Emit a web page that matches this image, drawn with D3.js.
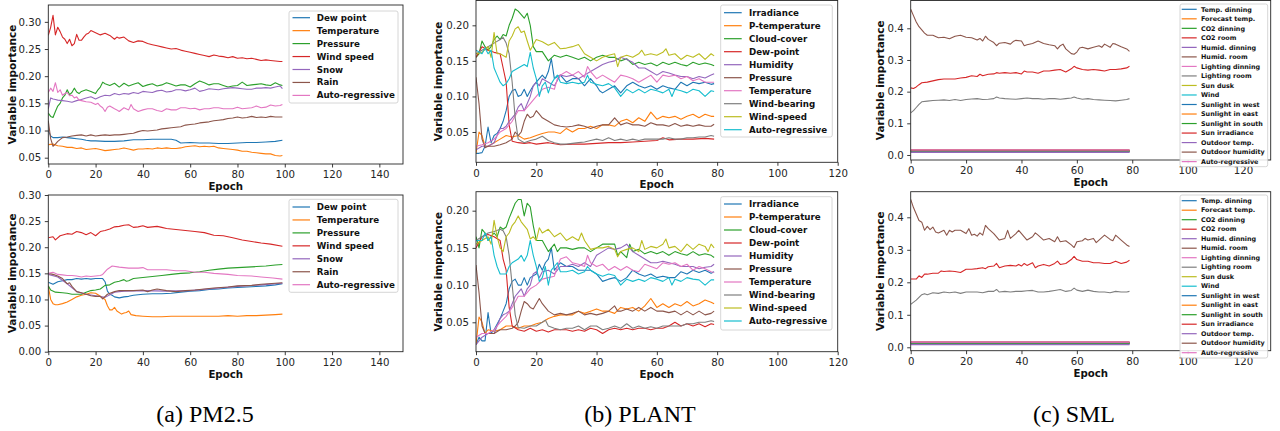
<!DOCTYPE html>
<html><head><meta charset="utf-8">
<script src="https://cdn.jsdelivr.net/npm/d3@7"></script>
<style>body{margin:0;background:#fff}svg{display:block}</style>
</head><body><svg id="c" width="1280" height="431"></svg>
<script>
const tab10 = ["#1f77b4","#ff7f0e","#2ca02c","#d62728","#9467bd","#8c564b","#e377c2","#7f7f7f","#bcbd22","#17becf"];

// ---------- (a) PM2.5 ----------
const pmNames = ["Dew point","Temperature","Pressure","Wind speed","Snow","Rain","Auto-regressive"];
const pmXTicks = [0,20,40,60,80,100,120,140];
const pmTopYTicks = [0.05,0.10,0.15,0.20,0.25,0.30];
const pmBotYTicks = [0.00,0.05,0.10,0.15,0.20,0.25,0.30];

const pmTopDew = [[0,0.100],[1,0.090],[2,0.087],[4,0.087],[6,0.088],[8,0.087],[10,0.086],[12,0.085],[14,0.084],[16,0.082],[18,0.081],[20,0.081],[24,0.080],[28,0.080],[32,0.081],[36,0.083],[40,0.083],[44,0.084],[48,0.084],[52,0.084],[54,0.082],[56,0.077],[60,0.078],[64,0.077],[68,0.077],[72,0.076],[76,0.076],[80,0.077],[84,0.078],[88,0.078],[92,0.079],[96,0.080],[99,0.082]];
const pmTopTemp = [[0,0.074],[2,0.075],[4,0.072],[6,0.071],[8,0.069],[10,0.069],[12,0.067],[14,0.068],[16,0.065],[18,0.066],[20,0.067],[22,0.065],[24,0.063],[26,0.064],[28,0.065],[30,0.066],[32,0.068],[34,0.066],[36,0.064],[38,0.066],[40,0.066],[42,0.067],[44,0.066],[46,0.068],[48,0.067],[50,0.068],[52,0.067],[54,0.067],[56,0.068],[58,0.070],[60,0.071],[62,0.072],[64,0.070],[66,0.071],[68,0.070],[70,0.071],[72,0.068],[74,0.067],[76,0.066],[78,0.065],[80,0.064],[82,0.062],[84,0.062],[86,0.060],[88,0.059],[90,0.058],[92,0.057],[94,0.057],[96,0.054],[98,0.053],[99,0.054]];
const pmTopPres = [[0,0.132],[1,0.126],[2,0.124],[3,0.135],[4,0.145],[5,0.150],[6,0.160],[7,0.165],[8,0.175],[9,0.166],[10,0.170],[11,0.178],[12,0.171],[13,0.168],[14,0.172],[16,0.175],[18,0.172],[20,0.168],[21,0.175],[22,0.180],[23,0.189],[24,0.186],[26,0.183],[28,0.187],[30,0.180],[32,0.187],[34,0.182],[36,0.185],[38,0.188],[40,0.181],[42,0.184],[44,0.186],[46,0.182],[48,0.184],[50,0.188],[52,0.185],[54,0.182],[56,0.184],[58,0.184],[60,0.180],[62,0.186],[64,0.191],[66,0.188],[68,0.184],[70,0.186],[72,0.186],[74,0.183],[76,0.180],[78,0.182],[80,0.183],[82,0.189],[84,0.183],[86,0.184],[88,0.185],[90,0.186],[92,0.184],[94,0.183],[96,0.188],[98,0.184],[99,0.183]];
const pmTopWind = [[0,0.275],[1,0.290],[2,0.312],[3,0.276],[4,0.290],[5,0.282],[6,0.272],[7,0.268],[8,0.260],[9,0.268],[10,0.256],[11,0.260],[12,0.277],[13,0.266],[14,0.266],[15,0.272],[16,0.277],[17,0.279],[18,0.284],[20,0.280],[22,0.276],[24,0.279],[26,0.275],[28,0.268],[29,0.272],[30,0.270],[32,0.272],[34,0.265],[36,0.262],[38,0.265],[40,0.264],[42,0.260],[44,0.258],[46,0.256],[48,0.254],[50,0.252],[52,0.250],[54,0.251],[56,0.248],[58,0.246],[60,0.244],[62,0.242],[64,0.240],[66,0.238],[68,0.236],[70,0.239],[72,0.237],[74,0.236],[76,0.234],[78,0.236],[80,0.233],[82,0.234],[84,0.232],[86,0.233],[88,0.231],[90,0.229],[92,0.230],[94,0.229],[96,0.228],[98,0.227],[99,0.227]];
const pmTopSnow = [[0,0.140],[1,0.160],[2,0.158],[3,0.157],[4,0.156],[6,0.155],[8,0.154],[10,0.152],[12,0.155],[14,0.157],[16,0.160],[18,0.162],[20,0.158],[22,0.162],[24,0.165],[26,0.164],[28,0.168],[30,0.166],[32,0.168],[34,0.167],[36,0.170],[38,0.168],[40,0.172],[42,0.171],[44,0.170],[46,0.173],[48,0.174],[50,0.171],[52,0.172],[54,0.175],[56,0.175],[58,0.173],[60,0.175],[62,0.178],[64,0.172],[66,0.174],[68,0.177],[70,0.176],[72,0.175],[74,0.177],[76,0.178],[78,0.179],[80,0.178],[82,0.177],[84,0.176],[86,0.176],[88,0.178],[90,0.178],[92,0.179],[94,0.178],[96,0.180],[98,0.182],[99,0.177]];
const pmTopRain = [[0,0.118],[1,0.085],[2,0.071],[3,0.075],[4,0.080],[6,0.087],[8,0.088],[10,0.090],[12,0.091],[14,0.092],[16,0.090],[18,0.092],[20,0.090],[22,0.091],[24,0.092],[26,0.091],[28,0.092],[30,0.092],[32,0.093],[34,0.094],[36,0.095],[38,0.098],[40,0.100],[42,0.099],[44,0.100],[46,0.101],[48,0.103],[50,0.104],[52,0.105],[54,0.106],[56,0.107],[58,0.110],[60,0.111],[62,0.112],[64,0.114],[66,0.115],[68,0.116],[70,0.118],[72,0.119],[74,0.120],[76,0.122],[78,0.123],[80,0.125],[82,0.123],[84,0.124],[86,0.126],[88,0.124],[90,0.125],[92,0.124],[94,0.126],[96,0.125],[99,0.125]];
const pmTopAuto = [[0,0.170],[1,0.178],[2,0.172],[3,0.188],[4,0.170],[5,0.175],[6,0.165],[7,0.168],[8,0.170],[9,0.164],[10,0.165],[11,0.160],[12,0.162],[13,0.156],[14,0.155],[16,0.153],[18,0.152],[20,0.148],[21,0.150],[22,0.145],[23,0.142],[24,0.135],[25,0.143],[26,0.145],[28,0.140],[29,0.138],[30,0.135],[32,0.142],[34,0.138],[35,0.148],[36,0.140],[38,0.135],[40,0.138],[42,0.140],[44,0.140],[46,0.137],[48,0.135],[50,0.140],[52,0.138],[54,0.138],[56,0.142],[58,0.142],[60,0.140],[62,0.141],[64,0.138],[66,0.140],[68,0.140],[70,0.142],[72,0.142],[74,0.140],[76,0.140],[78,0.140],[80,0.143],[82,0.140],[84,0.141],[86,0.142],[88,0.145],[90,0.142],[92,0.143],[94,0.147],[96,0.145],[98,0.146],[99,0.148]];

const pmBotDew = [[0,0.133],[2,0.129],[4,0.134],[6,0.136],[8,0.138],[10,0.138],[12,0.140],[14,0.139],[16,0.140],[18,0.139],[20,0.140],[22,0.140],[23,0.140],[24,0.134],[25,0.116],[26,0.110],[27,0.108],[28,0.105],[30,0.103],[32,0.105],[34,0.106],[36,0.108],[38,0.109],[40,0.110],[44,0.111],[48,0.111],[52,0.112],[56,0.114],[60,0.116],[64,0.117],[68,0.119],[72,0.120],[76,0.122],[80,0.123],[84,0.124],[88,0.125],[92,0.126],[96,0.128],[99,0.130]];
const pmBotTemp = [[0,0.125],[1,0.100],[2,0.092],[3,0.090],[4,0.090],[6,0.092],[8,0.095],[10,0.100],[12,0.105],[14,0.108],[16,0.110],[18,0.113],[20,0.112],[22,0.106],[24,0.100],[25,0.088],[26,0.080],[27,0.080],[28,0.085],[29,0.078],[31,0.072],[32,0.074],[33,0.075],[34,0.078],[35,0.071],[37,0.069],[40,0.068],[44,0.067],[48,0.067],[52,0.068],[56,0.068],[60,0.068],[64,0.068],[68,0.068],[72,0.068],[76,0.069],[80,0.068],[84,0.069],[88,0.069],[92,0.070],[96,0.071],[99,0.072]];
const pmBotPres = [[0,0.126],[1,0.118],[3,0.114],[6,0.113],[8,0.112],[10,0.110],[12,0.110],[14,0.110],[16,0.114],[18,0.117],[20,0.118],[22,0.120],[24,0.127],[26,0.128],[28,0.133],[30,0.135],[32,0.138],[33,0.135],[34,0.136],[36,0.140],[38,0.141],[40,0.142],[44,0.144],[48,0.146],[52,0.148],[56,0.150],[60,0.151],[64,0.153],[68,0.156],[72,0.158],[76,0.160],[80,0.161],[84,0.162],[88,0.163],[92,0.164],[96,0.166],[99,0.167]];
const pmBotWind = [[0,0.218],[2,0.220],[3,0.214],[5,0.222],[8,0.226],[10,0.225],[12,0.230],[14,0.228],[16,0.224],[18,0.228],[20,0.222],[22,0.230],[24,0.232],[26,0.235],[28,0.239],[30,0.240],[32,0.242],[34,0.243],[36,0.238],[38,0.239],[40,0.241],[42,0.238],[44,0.239],[46,0.240],[48,0.238],[50,0.236],[54,0.234],[58,0.232],[62,0.230],[66,0.228],[70,0.223],[74,0.222],[78,0.218],[82,0.214],[86,0.211],[90,0.208],[94,0.206],[99,0.202]];
const pmBotSnow = [[0,0.148],[4,0.143],[8,0.130],[12,0.115],[16,0.110],[20,0.107],[24,0.104],[28,0.114],[32,0.116],[40,0.117],[50,0.116],[60,0.117],[70,0.121],[80,0.125],[90,0.128],[99,0.131]];
const pmBotRain = [[0,0.150],[2,0.148],[4,0.145],[6,0.140],[8,0.130],[9,0.132],[10,0.125],[12,0.115],[14,0.113],[16,0.110],[18,0.107],[20,0.106],[22,0.106],[23,0.101],[25,0.110],[28,0.115],[30,0.117],[32,0.117],[36,0.117],[40,0.118],[42,0.115],[44,0.118],[46,0.120],[50,0.117],[54,0.115],[58,0.117],[62,0.118],[66,0.120],[70,0.122],[76,0.124],[80,0.126],[86,0.127],[90,0.129],[96,0.131],[99,0.132]];
const pmBotAuto = [[0,0.150],[2,0.152],[4,0.148],[6,0.147],[8,0.146],[10,0.146],[12,0.145],[14,0.143],[16,0.145],[18,0.144],[20,0.145],[22,0.146],[23,0.148],[25,0.158],[27,0.164],[30,0.162],[34,0.160],[38,0.160],[40,0.161],[42,0.157],[46,0.157],[50,0.157],[54,0.155],[58,0.155],[62,0.152],[66,0.152],[70,0.150],[76,0.148],[80,0.146],[86,0.145],[90,0.143],[95,0.141],[99,0.139]];

// ---------- (b) PLANT ----------
const plNames = ["Irradiance","P-temperature","Cloud-cover","Dew-point","Humidity","Pressure","Temperature","Wind-bearing","Wind-speed","Auto-regressive"];
const plXTicks = [0,20,40,60,80,100,120];
const plYTicks = [0.05,0.10,0.15,0.20];

const plTopIrr = [[0,0.020],[1,0.020],[2,0.021],[3,0.030],[4,0.057],[5,0.035],[6,0.045],[7,0.048],[8,0.055],[9,0.065],[10,0.080],[11,0.100],[12,0.108],[13,0.110],[14,0.100],[15,0.102],[16,0.110],[17,0.100],[18,0.108],[19,0.115],[20,0.120],[21,0.125],[22,0.130],[23,0.125],[24,0.135],[25,0.153],[26,0.125],[27,0.128],[28,0.130],[30,0.120],[32,0.125],[34,0.125],[36,0.115],[38,0.125],[40,0.115],[41,0.108],[42,0.105],[44,0.110],[46,0.115],[48,0.105],[50,0.115],[52,0.120],[54,0.115],[56,0.112],[58,0.115],[60,0.110],[62,0.115],[64,0.112],[66,0.110],[68,0.120],[70,0.115],[72,0.120],[74,0.118],[76,0.120],[78,0.117],[79,0.118]];
const plTopPT = [[0,0.020],[1,0.050],[2,0.045],[3,0.030],[4,0.030],[6,0.035],[8,0.040],[10,0.045],[12,0.043],[14,0.045],[16,0.040],[18,0.042],[20,0.045],[22,0.048],[24,0.050],[26,0.050],[28,0.048],[30,0.055],[32,0.050],[34,0.055],[36,0.055],[38,0.058],[40,0.055],[42,0.060],[44,0.060],[46,0.058],[48,0.065],[50,0.068],[52,0.063],[54,0.070],[56,0.065],[58,0.078],[60,0.068],[62,0.072],[64,0.070],[66,0.072],[68,0.068],[70,0.072],[72,0.075],[74,0.070],[76,0.075],[78,0.072],[79,0.072]];
const plTopCloud = [[0,0.155],[1,0.160],[2,0.178],[3,0.170],[4,0.165],[5,0.170],[6,0.180],[7,0.185],[8,0.180],[9,0.187],[10,0.185],[11,0.200],[12,0.210],[13,0.223],[14,0.220],[15,0.215],[16,0.210],[17,0.217],[18,0.200],[19,0.170],[20,0.163],[22,0.163],[24,0.150],[26,0.158],[28,0.155],[30,0.158],[32,0.155],[34,0.152],[36,0.155],[38,0.150],[40,0.155],[42,0.158],[44,0.155],[46,0.155],[48,0.150],[50,0.153],[52,0.145],[54,0.148],[56,0.145],[58,0.147],[60,0.143],[62,0.148],[64,0.145],[66,0.148],[68,0.145],[70,0.143],[72,0.148],[74,0.145],[76,0.147],[78,0.145],[79,0.143]];
const plTopDew = [[0,0.155],[2,0.170],[4,0.165],[6,0.162],[8,0.160],[9,0.140],[10,0.120],[11,0.060],[12,0.037],[14,0.035],[16,0.034],[18,0.035],[20,0.033],[24,0.035],[28,0.032],[32,0.033],[36,0.033],[40,0.034],[44,0.035],[48,0.035],[52,0.036],[56,0.037],[60,0.038],[62,0.042],[64,0.039],[68,0.040],[72,0.040],[76,0.041],[79,0.040]];
const plTopHum = [[0,0.025],[2,0.030],[4,0.030],[6,0.035],[7,0.045],[8,0.055],[9,0.055],[10,0.058],[11,0.065],[12,0.070],[13,0.075],[14,0.085],[15,0.090],[16,0.080],[17,0.090],[18,0.100],[19,0.115],[20,0.120],[21,0.115],[22,0.125],[24,0.120],[26,0.115],[28,0.130],[30,0.128],[32,0.130],[34,0.125],[36,0.130],[38,0.135],[40,0.140],[42,0.145],[44,0.148],[46,0.150],[48,0.155],[50,0.152],[52,0.148],[54,0.140],[56,0.140],[58,0.135],[60,0.130],[62,0.135],[64,0.133],[66,0.130],[68,0.128],[70,0.128],[72,0.125],[74,0.128],[76,0.126],[78,0.130],[79,0.132]];
const plTopPres = [[0,0.127],[1,0.090],[2,0.040],[3,0.028],[4,0.030],[6,0.030],[8,0.032],[10,0.035],[12,0.040],[13,0.050],[14,0.045],[15,0.050],[16,0.065],[17,0.075],[18,0.070],[19,0.072],[20,0.080],[21,0.075],[22,0.070],[24,0.065],[26,0.060],[28,0.058],[30,0.057],[32,0.058],[34,0.060],[36,0.058],[38,0.055],[40,0.058],[42,0.060],[44,0.060],[46,0.070],[48,0.060],[50,0.063],[52,0.060],[54,0.060],[56,0.058],[58,0.063],[60,0.060],[62,0.060],[64,0.058],[66,0.062],[68,0.058],[70,0.060],[72,0.058],[74,0.060],[76,0.058],[78,0.058],[79,0.061]];
const plTopTemp = [[0,0.030],[2,0.032],[4,0.035],[6,0.040],[8,0.050],[10,0.055],[12,0.065],[14,0.080],[16,0.080],[18,0.090],[20,0.100],[22,0.110],[24,0.113],[26,0.110],[27,0.125],[28,0.130],[30,0.135],[32,0.130],[34,0.135],[36,0.127],[37,0.142],[38,0.135],[40,0.125],[42,0.130],[44,0.125],[46,0.120],[48,0.130],[50,0.128],[52,0.125],[54,0.120],[56,0.125],[58,0.130],[60,0.120],[62,0.130],[64,0.128],[66,0.130],[68,0.125],[70,0.128],[72,0.122],[74,0.125],[76,0.120],[78,0.120],[79,0.120]];
const plTopWB = [[0,0.160],[2,0.165],[4,0.170],[6,0.175],[8,0.180],[9,0.183],[10,0.175],[11,0.160],[12,0.120],[13,0.070],[14,0.040],[16,0.035],[18,0.038],[20,0.040],[22,0.044],[24,0.038],[26,0.035],[28,0.033],[30,0.033],[32,0.034],[34,0.035],[36,0.036],[38,0.038],[40,0.040],[42,0.038],[44,0.042],[46,0.038],[48,0.040],[50,0.038],[52,0.040],[54,0.038],[56,0.040],[58,0.040],[60,0.040],[62,0.040],[64,0.042],[66,0.040],[68,0.040],[70,0.042],[72,0.042],[74,0.043],[76,0.043],[78,0.045],[79,0.044]];
const plTopWS = [[0,0.160],[2,0.162],[4,0.170],[5,0.155],[6,0.190],[7,0.160],[8,0.160],[10,0.155],[11,0.178],[12,0.185],[13,0.195],[14,0.198],[15,0.190],[16,0.192],[17,0.178],[18,0.165],[20,0.180],[22,0.177],[24,0.172],[26,0.176],[28,0.167],[30,0.168],[32,0.170],[34,0.173],[36,0.160],[38,0.155],[40,0.150],[42,0.155],[44,0.158],[46,0.160],[47,0.142],[48,0.155],[50,0.158],[52,0.155],[54,0.160],[55,0.165],[56,0.158],[58,0.160],[60,0.158],[62,0.162],[63,0.167],[64,0.158],[66,0.160],[68,0.152],[70,0.158],[72,0.155],[74,0.160],[76,0.152],[78,0.160],[79,0.157]];
const plTopAuto = [[0,0.165],[2,0.160],[3,0.168],[4,0.160],[5,0.165],[6,0.140],[7,0.130],[8,0.120],[9,0.115],[10,0.118],[11,0.125],[12,0.135],[14,0.140],[16,0.145],[17,0.142],[18,0.162],[19,0.140],[20,0.125],[21,0.100],[22,0.115],[23,0.120],[24,0.105],[25,0.118],[26,0.125],[27,0.130],[28,0.120],[30,0.118],[32,0.120],[34,0.118],[36,0.120],[37,0.130],[38,0.120],[40,0.117],[42,0.115],[44,0.118],[46,0.112],[48,0.100],[50,0.110],[52,0.105],[54,0.110],[56,0.105],[58,0.110],[60,0.108],[62,0.105],[64,0.110],[65,0.100],[66,0.110],[68,0.108],[70,0.105],[72,0.110],[74,0.108],[76,0.100],[78,0.108],[79,0.107]];

const plBotIrr = [[0,0.020],[1,0.030],[2,0.025],[3,0.025],[4,0.063],[5,0.035],[6,0.040],[8,0.055],[9,0.065],[10,0.075],[11,0.095],[12,0.105],[13,0.108],[14,0.100],[15,0.100],[16,0.110],[17,0.100],[18,0.110],[20,0.115],[21,0.128],[22,0.120],[23,0.130],[24,0.135],[25,0.150],[26,0.120],[28,0.130],[30,0.125],[32,0.125],[34,0.120],[36,0.120],[38,0.120],[40,0.115],[42,0.105],[44,0.108],[46,0.110],[48,0.105],[50,0.110],[52,0.120],[54,0.115],[56,0.112],[58,0.115],[60,0.110],[62,0.112],[64,0.110],[66,0.110],[68,0.118],[70,0.115],[72,0.120],[74,0.117],[76,0.120],[78,0.116],[79,0.118]];
const plBotPT = [[0,0.020],[1,0.057],[2,0.050],[3,0.035],[4,0.040],[6,0.038],[8,0.040],[10,0.045],[12,0.045],[14,0.042],[16,0.045],[18,0.045],[20,0.048],[22,0.050],[24,0.055],[26,0.058],[28,0.060],[30,0.060],[32,0.060],[34,0.065],[36,0.062],[38,0.065],[40,0.068],[42,0.065],[44,0.065],[46,0.062],[48,0.070],[50,0.068],[52,0.070],[54,0.065],[56,0.072],[58,0.082],[60,0.070],[62,0.075],[64,0.070],[66,0.075],[68,0.072],[70,0.078],[72,0.072],[74,0.075],[76,0.080],[78,0.077],[79,0.075]];
const plBotCloud = [[0,0.165],[1,0.150],[2,0.175],[3,0.170],[4,0.160],[5,0.165],[6,0.170],[7,0.165],[8,0.178],[9,0.175],[10,0.178],[11,0.190],[12,0.200],[13,0.210],[14,0.215],[15,0.215],[16,0.193],[17,0.210],[18,0.205],[19,0.180],[20,0.160],[22,0.160],[24,0.145],[26,0.155],[27,0.145],[28,0.150],[30,0.150],[32,0.148],[34,0.150],[36,0.150],[38,0.145],[40,0.150],[42,0.155],[44,0.155],[46,0.155],[47,0.140],[48,0.145],[50,0.137],[51,0.155],[52,0.145],[54,0.148],[56,0.142],[58,0.145],[60,0.142],[62,0.145],[64,0.140],[66,0.145],[68,0.142],[70,0.140],[72,0.145],[74,0.140],[76,0.142],[78,0.140],[79,0.137]];
const plBotDew = [[0,0.150],[2,0.165],[4,0.168],[6,0.165],[8,0.160],[9,0.135],[10,0.120],[11,0.070],[12,0.045],[14,0.040],[16,0.038],[18,0.042],[20,0.038],[22,0.040],[24,0.037],[26,0.040],[28,0.040],[30,0.040],[32,0.038],[34,0.040],[36,0.038],[38,0.042],[40,0.040],[42,0.035],[44,0.040],[46,0.042],[48,0.040],[50,0.042],[52,0.040],[54,0.042],[56,0.042],[58,0.040],[60,0.042],[62,0.042],[64,0.045],[66,0.050],[68,0.045],[70,0.048],[72,0.045],[74,0.048],[76,0.044],[78,0.048],[79,0.047]];
const plBotHum = [[0,0.020],[2,0.030],[4,0.035],[6,0.035],[7,0.045],[8,0.055],[9,0.060],[10,0.062],[11,0.065],[12,0.075],[13,0.085],[14,0.090],[15,0.095],[16,0.085],[17,0.095],[18,0.100],[19,0.115],[20,0.118],[21,0.110],[22,0.118],[24,0.120],[26,0.115],[28,0.125],[30,0.125],[32,0.128],[34,0.125],[36,0.130],[38,0.125],[40,0.140],[42,0.145],[44,0.150],[46,0.148],[48,0.150],[50,0.155],[52,0.145],[54,0.140],[56,0.135],[58,0.130],[60,0.130],[62,0.132],[64,0.130],[66,0.128],[68,0.125],[70,0.125],[72,0.125],[74,0.122],[76,0.124],[78,0.125],[79,0.128]];
const plBotPres = [[0,0.127],[1,0.090],[2,0.045],[3,0.035],[4,0.035],[6,0.035],[8,0.040],[10,0.040],[12,0.042],[13,0.045],[14,0.050],[15,0.065],[16,0.078],[17,0.075],[18,0.070],[19,0.068],[20,0.075],[21,0.082],[22,0.075],[23,0.070],[24,0.065],[26,0.060],[28,0.062],[30,0.060],[32,0.062],[34,0.065],[36,0.060],[38,0.062],[40,0.060],[42,0.062],[44,0.065],[46,0.072],[47,0.065],[48,0.065],[50,0.068],[52,0.065],[54,0.070],[56,0.065],[58,0.070],[60,0.065],[62,0.065],[64,0.063],[66,0.065],[68,0.060],[70,0.065],[72,0.060],[74,0.065],[76,0.060],[78,0.062],[79,0.065]];
const plBotTemp = [[0,0.030],[2,0.035],[4,0.035],[6,0.040],[8,0.050],[10,0.058],[12,0.070],[14,0.085],[16,0.085],[18,0.095],[20,0.100],[22,0.108],[24,0.110],[26,0.112],[27,0.125],[28,0.135],[30,0.138],[32,0.130],[34,0.128],[36,0.125],[37,0.140],[38,0.130],[40,0.125],[42,0.128],[44,0.120],[46,0.125],[48,0.120],[50,0.125],[52,0.120],[54,0.118],[56,0.128],[58,0.125],[60,0.122],[62,0.130],[64,0.128],[66,0.130],[68,0.125],[70,0.128],[72,0.120],[74,0.125],[76,0.122],[78,0.118],[79,0.117]];
const plBotWB = [[0,0.160],[2,0.165],[4,0.170],[6,0.172],[8,0.175],[9,0.173],[10,0.165],[11,0.140],[12,0.100],[13,0.060],[14,0.043],[16,0.042],[18,0.045],[20,0.045],[22,0.050],[23,0.053],[24,0.045],[26,0.042],[28,0.040],[30,0.042],[32,0.042],[34,0.045],[36,0.040],[38,0.045],[40,0.045],[42,0.040],[44,0.042],[46,0.045],[48,0.042],[50,0.048],[52,0.042],[54,0.045],[56,0.042],[58,0.044],[60,0.042],[62,0.045],[64,0.045],[66,0.045],[68,0.045],[70,0.048],[72,0.048],[74,0.050],[76,0.050],[78,0.052],[79,0.051]];
const plBotWS = [[0,0.155],[2,0.160],[4,0.165],[5,0.155],[6,0.187],[7,0.165],[8,0.150],[9,0.145],[10,0.165],[11,0.170],[12,0.180],[13,0.185],[14,0.193],[15,0.185],[16,0.180],[17,0.175],[18,0.162],[19,0.165],[20,0.160],[21,0.177],[22,0.170],[24,0.175],[26,0.165],[28,0.170],[30,0.160],[32,0.165],[34,0.160],[35,0.170],[36,0.160],[38,0.148],[40,0.150],[42,0.150],[44,0.152],[46,0.148],[47,0.138],[48,0.145],[50,0.148],[52,0.150],[54,0.145],[55,0.160],[56,0.148],[58,0.152],[60,0.150],[62,0.155],[63,0.162],[64,0.150],[66,0.152],[68,0.145],[70,0.155],[72,0.148],[74,0.155],[76,0.152],[77,0.145],[78,0.155],[79,0.150]];
const plBotAuto = [[0,0.160],[2,0.160],[3,0.170],[4,0.160],[5,0.165],[6,0.140],[7,0.125],[8,0.115],[9,0.115],[10,0.115],[11,0.125],[12,0.130],[14,0.135],[15,0.140],[16,0.132],[17,0.140],[18,0.160],[19,0.140],[20,0.125],[21,0.105],[22,0.110],[23,0.125],[24,0.100],[25,0.120],[26,0.125],[27,0.130],[28,0.118],[30,0.118],[32,0.120],[34,0.115],[36,0.118],[37,0.125],[38,0.120],[40,0.115],[42,0.112],[44,0.115],[46,0.113],[48,0.100],[50,0.108],[52,0.105],[54,0.108],[56,0.105],[58,0.110],[60,0.108],[62,0.105],[64,0.110],[65,0.100],[66,0.108],[68,0.105],[70,0.110],[72,0.108],[74,0.107],[76,0.100],[78,0.107],[79,0.107]];

// ---------- (c) SML ----------
const smNames = ["Temp. dinning","Forecast temp.","CO2 dinning","CO2 room","Humid. dinning","Humid. room","Lighting dinning","Lighting room","Sun dusk","Wind","Sunlight in west","Sunlight in east","Sunlight in south","Sun irradiance","Outdoor temp.","Outdoor humidity","Auto-regressive"];
const smXTicks = [0,20,40,60,80,100,120];
const smYTicks = [0.0,0.1,0.2,0.3,0.4];
const smFlatLevels = [0.012,0.013,0.012,null,0.008,null,0.015,null,0.012,0.011,0.012,0.013,0.012,0.016,0.009,0.015,0.016];
const smFlatEpochs = [0,20,40,60,79];

const smTopHumRoom = [[0,0.460],[1,0.440],[2,0.420],[3,0.405],[4,0.395],[5,0.385],[6,0.378],[8,0.378],[10,0.370],[12,0.372],[14,0.367],[16,0.375],[18,0.378],[20,0.372],[22,0.370],[24,0.363],[25,0.368],[26,0.360],[27,0.375],[28,0.365],[30,0.355],[31,0.345],[32,0.353],[34,0.355],[36,0.350],[37,0.358],[38,0.362],[40,0.360],[41,0.345],[42,0.348],[44,0.352],[46,0.360],[48,0.352],[50,0.348],[52,0.345],[53,0.335],[54,0.345],[55,0.350],[56,0.335],[58,0.320],[59,0.318],[60,0.325],[61,0.338],[62,0.340],[64,0.335],[66,0.340],[68,0.345],[69,0.340],[70,0.350],[72,0.340],[73,0.352],[74,0.350],[76,0.342],[78,0.335],[79,0.327]];
const smTopCO2Room = [[0,0.212],[1,0.210],[2,0.215],[3,0.222],[4,0.228],[6,0.230],[8,0.234],[10,0.238],[12,0.240],[14,0.240],[16,0.240],[18,0.243],[20,0.245],[22,0.250],[24,0.248],[25,0.255],[26,0.250],[28,0.255],[30,0.256],[31,0.260],[32,0.258],[34,0.260],[36,0.258],[38,0.260],[40,0.256],[41,0.265],[42,0.262],[44,0.262],[46,0.258],[48,0.265],[50,0.265],[52,0.268],[54,0.270],[56,0.262],[58,0.272],[59,0.280],[60,0.275],[62,0.270],[64,0.268],[66,0.270],[68,0.268],[70,0.265],[72,0.270],[74,0.270],[76,0.272],[78,0.275],[79,0.280]];
const smTopLightRoom = [[0,0.133],[1,0.140],[2,0.150],[3,0.160],[4,0.168],[6,0.170],[8,0.172],[10,0.173],[12,0.174],[14,0.172],[16,0.175],[18,0.172],[20,0.175],[22,0.177],[24,0.178],[26,0.175],[28,0.176],[30,0.178],[31,0.183],[32,0.180],[34,0.178],[36,0.177],[38,0.176],[40,0.178],[42,0.180],[44,0.178],[46,0.178],[48,0.176],[50,0.178],[52,0.178],[54,0.176],[56,0.178],[58,0.180],[59,0.183],[60,0.180],[62,0.176],[64,0.178],[66,0.175],[68,0.174],[70,0.173],[72,0.172],[74,0.171],[76,0.173],[78,0.175],[79,0.178]];

const smBotHumRoom = [[0,0.455],[1,0.430],[2,0.410],[3,0.390],[4,0.385],[5,0.360],[6,0.372],[7,0.362],[8,0.370],[9,0.355],[10,0.352],[12,0.360],[13,0.345],[14,0.360],[15,0.355],[16,0.360],[18,0.360],[20,0.350],[21,0.365],[22,0.345],[23,0.348],[24,0.342],[25,0.352],[26,0.345],[27,0.375],[28,0.365],[30,0.350],[32,0.330],[34,0.335],[35,0.360],[36,0.335],[38,0.350],[39,0.360],[40,0.350],[42,0.330],[44,0.340],[45,0.352],[46,0.345],[48,0.330],[50,0.335],[52,0.325],[53,0.340],[54,0.325],[56,0.328],[58,0.315],[59,0.307],[60,0.325],[62,0.328],[63,0.335],[64,0.330],[66,0.335],[67,0.322],[68,0.330],[70,0.345],[72,0.332],[73,0.328],[74,0.345],[76,0.330],[78,0.315],[79,0.310]];
const smBotCO2Room = [[0,0.210],[2,0.210],[3,0.220],[4,0.215],[5,0.225],[6,0.225],[8,0.228],[10,0.228],[11,0.235],[12,0.233],[14,0.235],[16,0.233],[18,0.230],[20,0.240],[22,0.240],[24,0.242],[26,0.245],[27,0.242],[28,0.248],[30,0.250],[31,0.258],[32,0.245],[34,0.250],[36,0.252],[38,0.250],[39,0.255],[40,0.250],[41,0.258],[42,0.252],[44,0.260],[45,0.245],[46,0.250],[48,0.255],[50,0.250],[52,0.258],[53,0.265],[54,0.255],[56,0.258],[58,0.270],[59,0.280],[60,0.270],[62,0.265],[64,0.265],[66,0.260],[68,0.260],[70,0.258],[72,0.258],[74,0.265],[76,0.258],[78,0.262],[79,0.268]];
const smBotLightRoom = [[0,0.132],[2,0.145],[4,0.162],[5,0.165],[6,0.162],[8,0.168],[10,0.166],[12,0.170],[14,0.168],[16,0.170],[18,0.166],[20,0.170],[22,0.170],[24,0.170],[26,0.168],[28,0.172],[30,0.172],[31,0.178],[32,0.170],[34,0.172],[36,0.170],[38,0.172],[40,0.172],[42,0.174],[44,0.175],[46,0.170],[48,0.170],[50,0.172],[52,0.175],[54,0.178],[56,0.172],[58,0.175],[59,0.182],[60,0.176],[62,0.172],[64,0.176],[66,0.172],[68,0.170],[70,0.170],[72,0.168],[74,0.172],[76,0.170],[78,0.170],[79,0.172]];

function smSeries(hum, co2, light){
  return smNames.map((n,i)=>{
    if (i===3) return co2;
    if (i===5) return hum;
    if (i===7) return light;
    return smFlatEpochs.map(e=>[e, smFlatLevels[i]]);
  });
}

const svg = d3.select("#c");
const FONT = "DejaVu Sans";
let clipId = 0;

function drawPanel(cfg){
  const g = svg.append("g");
  const x = d3.scaleLinear().domain(cfg.xd).range([cfg.l, cfg.r]);
  const y = d3.scaleLinear().domain(cfg.yd).range([cfg.b, cfg.t]);
  const id = "clip" + (clipId++);
  g.append("clipPath").attr("id", id).append("rect")
    .attr("x", cfg.l).attr("y", cfg.t).attr("width", cfg.r - cfg.l).attr("height", cfg.b - cfg.t);
  const line = d3.line().x(d => x(d[0])).y(d => y(d[1]));
  const lg = g.append("g").attr("clip-path", `url(#${id})`);
  cfg.series.forEach((s, i) => {
    lg.append("path").datum(s).attr("d", line)
      .attr("fill", "none").attr("stroke", tab10[i % 10])
      .attr("stroke-width", 1.1).attr("stroke-linejoin", "round");
  });
  // axes
  const xa = g.append("g").attr("transform", `translate(0,${cfg.b})`)
    .call(d3.axisBottom(x).tickValues(cfg.xt).tickSize(3.5).tickPadding(3.5).tickFormat(d3.format("d")));
  const ya = g.append("g").attr("transform", `translate(${cfg.l},0)`)
    .call(d3.axisLeft(y).tickValues(cfg.yt).tickSize(3.5).tickPadding(3.5).tickFormat(d3.format(cfg.yf)));
  [xa, ya].forEach(a => {
    a.select(".domain").remove();
    a.attr("font-family", FONT).attr("font-size", 10.2).attr("color", "#262626");
    a.selectAll("line").attr("stroke", "#262626").attr("stroke-width", 0.9);
  });
  g.append("rect").attr("x", cfg.l).attr("y", cfg.t).attr("width", cfg.r - cfg.l).attr("height", cfg.b - cfg.t)
    .attr("fill", "none").attr("stroke", "#262626").attr("stroke-width", 0.9);
  g.append("text").attr("x", (cfg.l + cfg.r) / 2).attr("y", cfg.b + 26)
    .attr("text-anchor", "middle").attr("font-family", FONT).attr("font-weight", "bold")
    .attr("font-size", 10.2).attr("fill", "#111").text("Epoch");
  const yc = (cfg.t + cfg.b) / 2;
  g.append("text").attr("transform", `translate(${cfg.yl},${yc}) rotate(-90)`)
    .attr("text-anchor", "middle").attr("dy", "0.35em").attr("font-family", FONT).attr("font-weight", "bold")
    .attr("font-size", 10.5).attr("fill", "#111").text("Variable importance");
  // legend
  const L = cfg.leg;
  const lgd = g.append("g");
  lgd.append("rect").attr("x", L.x).attr("y", L.y).attr("width", L.w).attr("height", L.h)
    .attr("rx", 2).attr("fill", "#fff").attr("fill-opacity", 0.85).attr("stroke", "#cccccc").attr("stroke-width", 0.8);
  cfg.names.forEach((n, i) => {
    const yy = L.y0 + i * L.dy;
    lgd.append("line").attr("x1", L.lx0).attr("x2", L.lx1).attr("y1", yy).attr("y2", yy)
      .attr("stroke", tab10[i % 10]).attr("stroke-width", 1.2);
    lgd.append("text").attr("x", L.tx).attr("y", yy).attr("dy", "0.35em")
      .attr("font-family", FONT).attr("font-weight", "bold").attr("font-size", L.fs)
      .attr("fill", "#111").text(n);
  });
}

// (a) top
drawPanel({l:48.3, r:403, t:5, b:164, xd:[0,150], yd:[0.0384,0.331], xt:pmXTicks, yt:pmTopYTicks, yf:".2f", yl:12,
  names:pmNames, series:[pmTopDew,pmTopTemp,pmTopPres,pmTopWind,pmTopSnow,pmTopRain,pmTopAuto],
  leg:{x:289, y:11, w:109, h:92, y0:17.7, dy:12.95, lx0:292.5, lx1:310, tx:316.7, fs:8.7}});
// (a) bottom
drawPanel({l:48.3, r:403, t:195, b:351.7, xd:[0,150], yd:[0,0.30], xt:pmXTicks, yt:pmBotYTicks, yf:".2f", yl:12,
  names:pmNames, series:[pmBotDew,pmBotTemp,pmBotPres,pmBotWind,pmBotSnow,pmBotRain,pmBotAuto],
  leg:{x:289, y:199.3, w:109, h:93, y0:207, dy:12.95, lx0:292.5, lx1:310, tx:316.7, fs:8.7}});
// (b) top
drawPanel({l:476, r:837.7, t:0.5, b:162.3, xd:[0,120], yd:[0.0074,0.2349], xt:plXTicks, yt:plYTicks, yf:".2f", yl:438.5,
  names:plNames, series:[plTopIrr,plTopPT,plTopCloud,plTopDew,plTopHum,plTopPres,plTopTemp,plTopWB,plTopWS,plTopAuto],
  leg:{x:720.7, y:5, w:111.6, h:132, y0:12.7, dy:13, lx0:724, lx1:741.7, tx:749, fs:8.7}});
// (b) bottom
drawPanel({l:476, r:837.7, t:191.7, b:351.7, xd:[0,120], yd:[0.0105,0.2255], xt:plXTicks, yt:plYTicks, yf:".2f", yl:438.5,
  names:plNames, series:[plBotIrr,plBotPT,plBotCloud,plBotDew,plBotHum,plBotPres,plBotTemp,plBotWB,plBotWS,plBotAuto],
  leg:{x:720.7, y:196.7, w:111.3, h:133.3, y0:204, dy:13, lx0:724, lx1:741.7, tx:749, fs:8.7}});
// (c) top
drawPanel({l:910.7, r:1270.7, t:0.5, b:160, xd:[0,130], yd:[-0.0158,0.4878], xt:smXTicks, yt:smYTicks, yf:".1f", yl:880,
  names:smNames, series:smSeries(smTopHumRoom, smTopCO2Room, smTopLightRoom),
  leg:{x:1180, y:4, w:87.7, h:162.7, y0:9.3, dy:9.52, lx0:1181.7, lx1:1196.7, tx:1201, fs:6.4}});
// (c) bottom
drawPanel({l:910.7, r:1270.7, t:191.7, b:350.7, xd:[0,130], yd:[-0.0105,0.4788], xt:smXTicks, yt:smYTicks, yf:".1f", yl:880,
  names:smNames, series:smSeries(smBotHumRoom, smBotCO2Room, smBotLightRoom),
  leg:{x:1180, y:195, w:87.7, h:163, y0:200.7, dy:9.5, lx0:1181.7, lx1:1196.7, tx:1201, fs:6.4}});

// captions
const captions = [["(a) PM2.5", 205], ["(b) PLANT", 640], ["(c) SML", 1074]];
svg.selectAll("text.cap").data(captions).enter().append("text").attr("class", "cap")
  .attr("x", d => d[1]).attr("y", 422).attr("text-anchor", "middle")
  .attr("font-family", "Liberation Serif").attr("font-size", 24).attr("fill", "#000").text(d => d[0]);
</script></body></html>
